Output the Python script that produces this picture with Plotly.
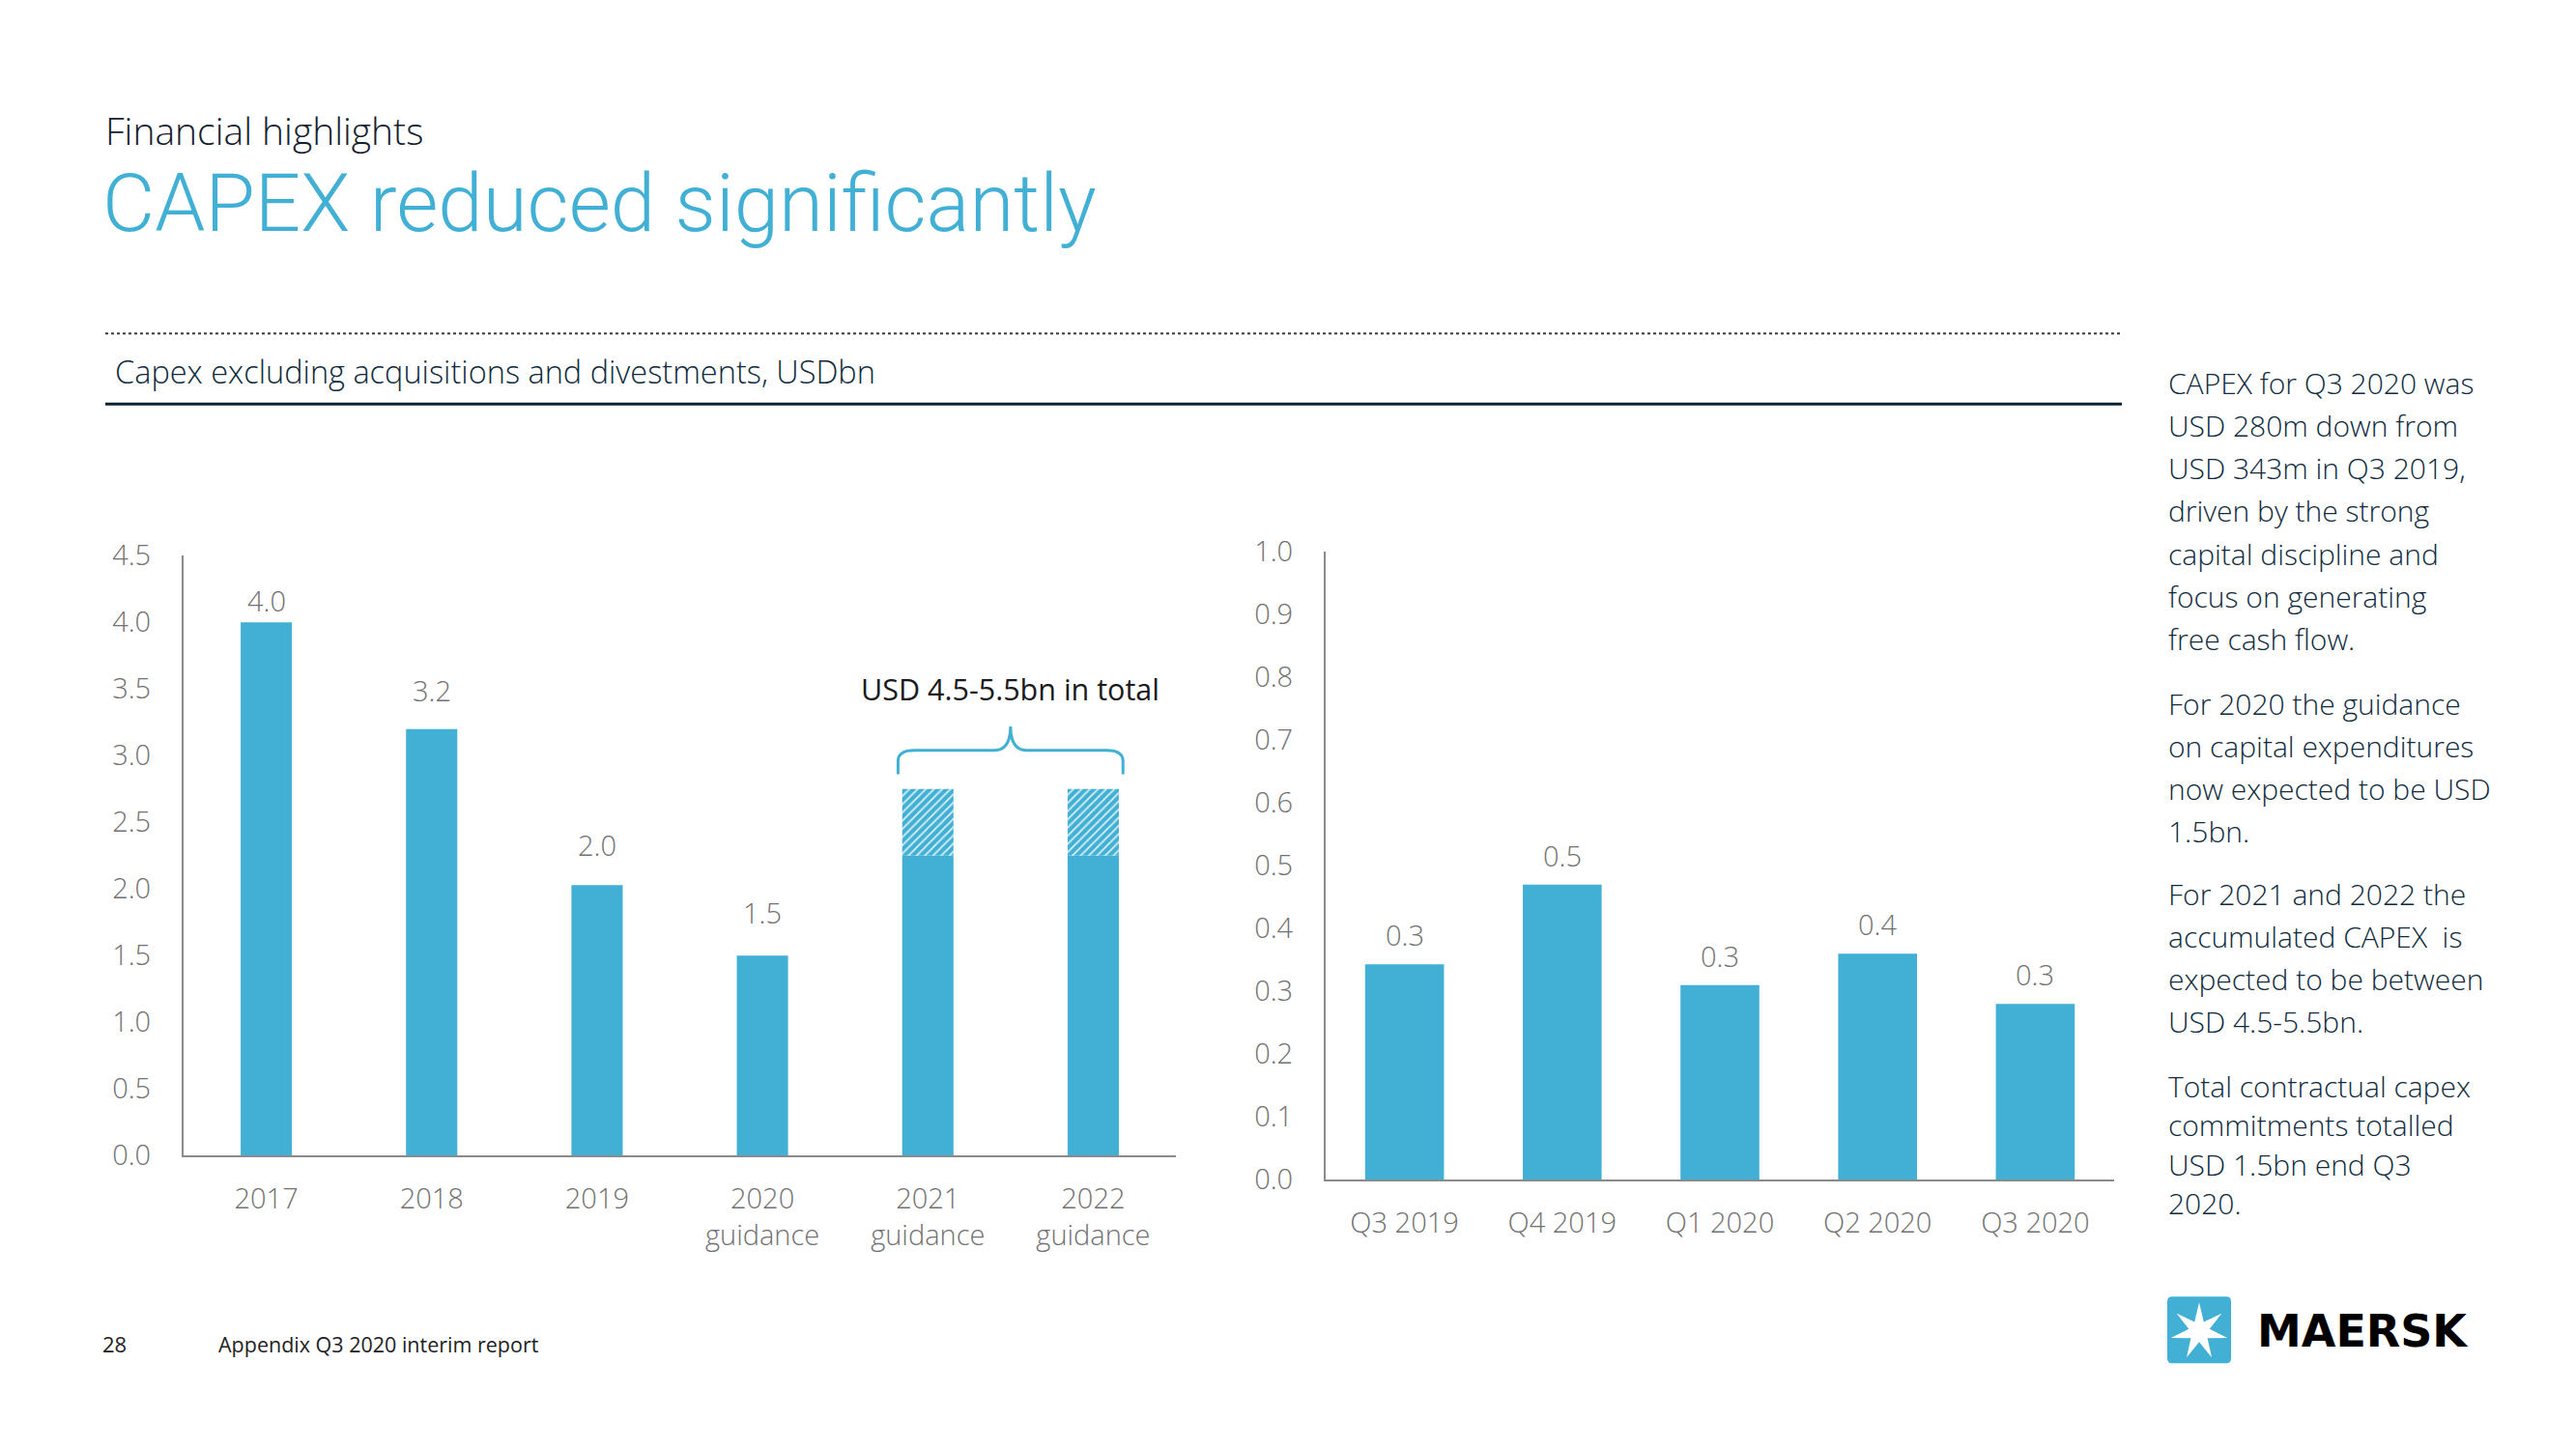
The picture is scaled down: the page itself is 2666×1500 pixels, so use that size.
import math
import plotly.graph_objects as go

# ---------------- data ----------------
years = ["2017", "2018", "2019", "2020<br>guidance", "2021<br>guidance", "2022<br>guidance"]
capex_annual = [4.0, 3.2, 2.03, 1.5, 2.25, 2.25]          # solid part, USDbn
capex_range_upper = [None, None, None, None, 0.5, 0.5]    # hatched part (range to upper guidance)
annual_labels = ["4.0", "3.2", "2.0", "1.5", "", ""]

quarters = ["Q3 2019", "Q4 2019", "Q1 2020", "Q2 2020", "Q3 2020"]
capex_quarterly = [0.343, 0.47, 0.31, 0.36, 0.28]

yticks_left = [0.0, 0.5, 1.0, 1.5, 2.0, 2.5, 3.0, 3.5, 4.0, 4.5]
yticks_right = [0.0, 0.1, 0.2, 0.3, 0.4, 0.5, 0.6, 0.7, 0.8, 0.9, 1.0]

side_paragraphs = [
    ["CAPEX for Q3 2020 was", "USD 280m down from", "USD 343m in Q3 2019,",
     "driven by the strong", "capital discipline and", "focus on generating", "free cash flow."],
    ["For 2020 the guidance", "on capital expenditures", "now expected to be USD", "1.5bn."],
    ["For 2021 and 2022 the", "accumulated CAPEX  is", "expected to be between", "USD 4.5-5.5bn."],
    ["Total contractual capex", "commitments totalled", "USD 1.5bn end Q3", "2020."],
]

# ---------------- style ----------------
W, H = 2666, 1500
BLUE = "#42b0d5"
NAVY = "#0f2b3d"
GREY_TXT = "#727272"
AXIS = "#8a8a8a"
FONT = "Open Sans"
# vertical calibration of the rendered page
Y_OFF, Y_SCALE = 20.7, 0.974
# pixel lift of each annual value label above its bar (style)
label_lift = [1, 19, 20, 23, 0, 0]


def px(x):
    return x / W


def py(y):
    return 1 - (y - Y_OFF) / Y_SCALE / H


fig = go.Figure()

x_left = list(range(len(years)))
x_right = list(range(len(quarters)))

fig.add_trace(go.Bar(
    x=x_left, y=capex_annual, width=0.31,
    marker=dict(color=BLUE, line=dict(width=0)),
    xaxis="x", yaxis="y", hoverinfo="skip",
))
fig.add_trace(go.Bar(
    x=x_left, y=capex_range_upper, base=capex_annual, width=0.31,
    marker=dict(color=BLUE, line=dict(width=0),
                pattern=dict(shape="/", fgcolor="white", bgcolor=BLUE,
                             size=6, solidity=0.3, fgopacity=0.8)),
    xaxis="x", yaxis="y", hoverinfo="skip",
))
fig.add_trace(go.Bar(
    x=x_right, y=capex_quarterly, width=0.5,
    marker=dict(color=BLUE, line=dict(width=0)),
    xaxis="x2", yaxis="y2", hoverinfo="skip",
))

axis_common = dict(showgrid=False, zeroline=False, showline=True, linecolor=AXIS,
                   linewidth=2, ticks="", fixedrange=True,
                   tickfont=dict(family=FONT, size=29, color=GREY_TXT, weight=300))

fig.update_layout(
    width=W, height=H, margin=dict(l=0, r=0, t=0, b=0),
    paper_bgcolor="white", plot_bgcolor="white", showlegend=False,
    barmode="overlay",
    font=dict(family=FONT),
    xaxis=dict(domain=[px(190), px(1217)], range=[-0.5, len(years) - 0.5],
               tickvals=x_left, ticktext=years, anchor="y", ticklabelstandoff=18, **axis_common),
    yaxis=dict(domain=[py(1196), py(575)], range=[0, 4.5], tickvals=yticks_left,
               tickformat=".1f", anchor="x", ticklabelstandoff=26, **axis_common),
    xaxis2=dict(domain=[px(1372), px(2188)], range=[-0.5, len(quarters) - 0.5],
                tickvals=x_right, ticktext=quarters, anchor="y2", ticklabelstandoff=18, **axis_common),
    yaxis2=dict(domain=[py(1221), py(571)], range=[0, 1.0], tickvals=yticks_right,
                tickformat=".1f", anchor="x2", ticklabelstandoff=26, **axis_common),
)

shapes = []
annotations = []

# value labels above bars
for xi, v, lab, lift in zip(x_left, capex_annual, annual_labels, label_lift):
    if lab:
        annotations.append(dict(text=lab, x=xi, y=v, xref="x", yref="y", yanchor="bottom",
                                yshift=lift, showarrow=False,
                                font=dict(family=FONT, size=29, color=GREY_TXT, weight=300)))
for xi, v in zip(x_right, capex_quarterly):
    annotations.append(dict(text=f"{v:.1f}", x=xi, y=v, xref="x2", yref="y2", yanchor="bottom",
                            yshift=9, showarrow=False,
                            font=dict(family=FONT, size=29, color=GREY_TXT, weight=300)))

# header texts
annotations.append(dict(text="Financial highlights", x=px(107), y=py(134), xref="paper", yref="paper",
                        xanchor="left", yanchor="middle", showarrow=False,
                        font=dict(family=FONT, size=39, color="#15202e", weight=300)))
annotations.append(dict(text="CAPEX reduced significantly", x=px(104), y=py(210), xref="paper", yref="paper",
                        xanchor="left", yanchor="middle", showarrow=False,
                        font=dict(family="Roboto", size=83.5, color=BLUE, weight=300)))
annotations.append(dict(text="Capex excluding acquisitions and divestments, USDbn", x=px(117), y=py(384),
                        xref="paper", yref="paper", xanchor="left", yanchor="middle", showarrow=False,
                        font=dict(family=FONT, size=32.5, color=NAVY, weight=300)))

# rule lines
shapes.append(dict(type="line", xref="paper", yref="paper", x0=px(109), x1=px(2196), y0=py(345), y1=py(345),
                   line=dict(color="#3a3a3a", width=2, dash="dot")))
shapes.append(dict(type="line", xref="paper", yref="paper", x0=px(109), x1=px(2196), y0=py(418), y1=py(418),
                   line=dict(color="#0b2233", width=3)))

# brace over 2021-2022 guidance
bl, br, bm = 3.82, 5.18, 4.5
y_end, y_h, y_peak = 2.86, 3.04, 3.22
dx = 0.10
brace = (f"M {bl},{y_end} L {bl},{y_h - 0.08} Q {bl},{y_h} {bl + dx},{y_h} "
         f"L {bm - dx},{y_h} Q {bm},{y_h} {bm},{y_peak} "
         f"Q {bm},{y_h} {bm + dx},{y_h} L {br - dx},{y_h} "
         f"Q {br},{y_h} {br},{y_h - 0.08} L {br},{y_end}")
shapes.append(dict(type="path", xref="x", yref="y", path=brace, line=dict(color=BLUE, width=3)))
annotations.append(dict(text="USD 4.5-5.5bn in total", x=4.5, y=3.50, xref="x", yref="y",
                        xanchor="center", yanchor="middle", showarrow=False,
                        font=dict(family=FONT, size=30.5, color="#1a1a1a")))

# side text
para_starts = [396, 728, 925, 1124]
para_steps = [44.2, 44.2, 44.2, 40.5]
for lines, y0, step in zip(side_paragraphs, para_starts, para_steps):
    for i, line in enumerate(lines):
        annotations.append(dict(text=line, x=px(2242), y=py(y0 + i * step), xref="paper", yref="paper",
                                xanchor="left", yanchor="middle", showarrow=False,
                                font=dict(family=FONT, size=30, color=NAVY, weight=300)))

# footer
annotations.append(dict(text="28", x=px(104), y=py(1391), xref="paper", yref="paper", xanchor="left",
                        yanchor="middle", showarrow=False, font=dict(family=FONT, size=22, color="#222222")))
annotations.append(dict(text="Appendix Q3 2020 interim report", x=px(224), y=py(1391), xref="paper", yref="paper",
                        xanchor="left", yanchor="middle", showarrow=False,
                        font=dict(family=FONT, size=21.5, color="#222222")))

# Maersk logo: rounded square + 7-point star
sx0, sx1, sy0, sy1, r = 2243, 2309, 1342, 1411, 5
sq = (f"M {px(sx0 + r)},{py(sy0)} L {px(sx1 - r)},{py(sy0)} Q {px(sx1)},{py(sy0)} {px(sx1)},{py(sy0 + r)} "
      f"L {px(sx1)},{py(sy1 - r)} Q {px(sx1)},{py(sy1)} {px(sx1 - r)},{py(sy1)} "
      f"L {px(sx0 + r)},{py(sy1)} Q {px(sx0)},{py(sy1)} {px(sx0)},{py(sy1 - r)} "
      f"L {px(sx0)},{py(sy0 + r)} Q {px(sx0)},{py(sy0)} {px(sx0 + r)},{py(sy0)} Z")
shapes.append(dict(type="path", xref="paper", yref="paper", path=sq, fillcolor=BLUE, line=dict(width=0)))
cx, cy, R_out, R_in = 2276, 1378, 30, 11
pts = []
for k in range(14):
    ang = math.pi * k / 7
    rad = R_out if k % 2 == 0 else R_in
    pts.append((cx + rad * math.sin(ang), cy - rad * math.cos(ang)))
star = "M " + " L ".join(f"{px(a)},{py(b)}" for a, b in pts) + " Z"
shapes.append(dict(type="path", xref="paper", yref="paper", path=star, fillcolor="white", line=dict(width=0)))
annotations.append(dict(text="<b>MAERSK</b>", x=px(2334), y=py(1378), xref="paper", yref="paper",
                        xanchor="left", yanchor="middle", showarrow=False,
                        font=dict(family="DejaVu Sans", size=46, color="#000000")))

fig.update_layout(shapes=shapes, annotations=annotations)

fig.write_html("out.html", config={"displayModeBar": False},
               post_script="document.body.style.margin='0';document.body.style.overflow='hidden';")
